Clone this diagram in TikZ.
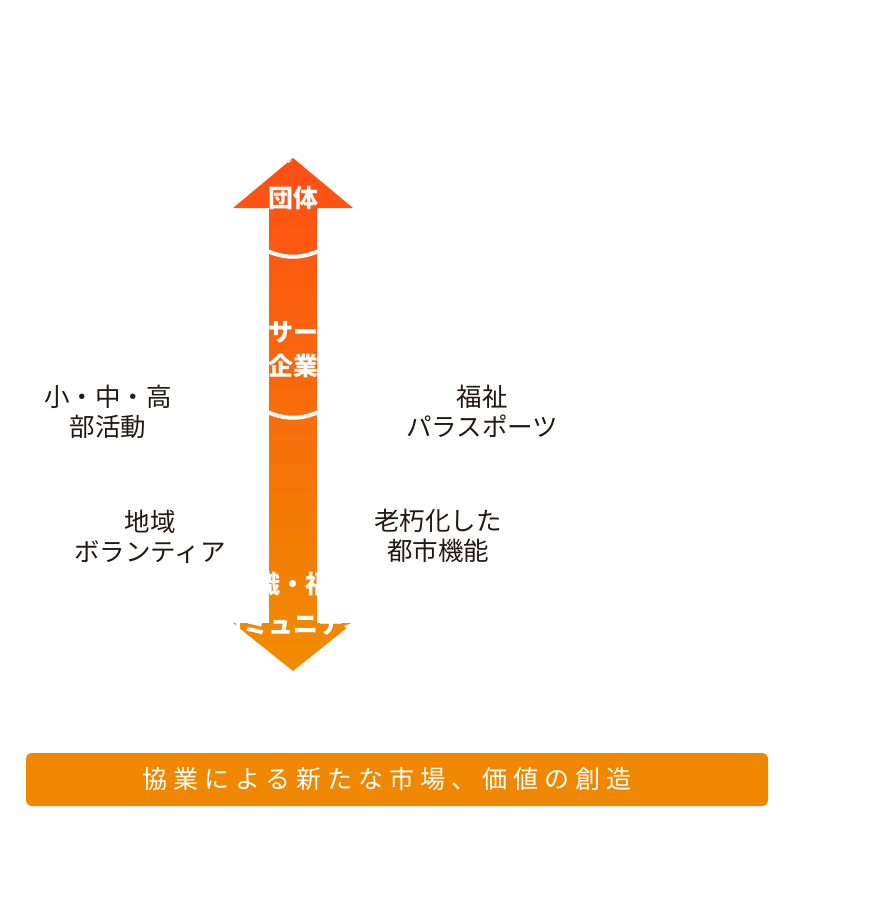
\documentclass[tikz,border=0pt]{standalone}
\usepackage{fontspec}
\setmainfont{Noto Sans CJK JP}
\newfontfamily\jp{Noto Sans CJK JP}
\newfontfamily\jpbar[LetterSpace=24]{Noto Sans CJK JP}
\definecolor{arrtop}{RGB}{255,78,20}
\definecolor{arrbot}{RGB}{240,140,0}
\definecolor{barc}{RGB}{239,136,0}
\definecolor{ink}{RGB}{35,24,21}
\tikzset{
  wt/.style={text=white, inner sep=0pt, font=\jp\bfseries\fontsize{25}{30}\selectfont},
  lbl/.style={text=ink, inner sep=0pt, align=center, font=\jp\fontsize{25.5}{30}\selectfont},
  sep/.style={draw=white, line width=4pt},
  barbox/.style={fill=barc, draw=none, rounded corners=6pt, minimum width=742pt, minimum height=53pt, inner sep=0pt},
  bartxt/.style={text=white, inner sep=0pt, font=\jpbar\fontsize{25}{30}\selectfont}
}
\begin{document}
\begin{tikzpicture}[x=1pt,y=-1pt]
\useasboundingbox (0,0) rectangle (880,918);
\fill[white] (0,0) rectangle (880,918);
% double arrow with gradient, text clipped to it
\begin{scope}
\clip (293,158) -- (353,208) -- (317,208) -- (317,623) -- (353,623) -- (293,671) -- (233,623) -- (269,623) -- (269,208) -- (233,208) -- cycle;
\shade[top color=arrtop, bottom color=arrbot] (233,158) rectangle (353,671);
\draw[sep] (265,250) .. controls (285,259) and (301,259) .. (321,250);
\draw[sep] (265,411) .. controls (285,420) and (301,420) .. (321,411);
\node[wt] (t1) at (293,155) {スポーツ};
\node[wt] (t2) at (293,198) {団体};
\node[wt] (m1) at (293,332) {地域サークル};
\node[wt] (m2) at (293,366) {企業};
\node[wt] (b1) at (293,584) {知識・福祉};
\node[wt] (b2) at (293,625) {コミュニティ};
\end{scope}
% labels
\node[lbl] (l1) at (108,412) {小・中・高\\部活動};
\node[lbl] (l2) at (482,411.5) {福祉\\パラスポーツ};
\node[lbl] (l3) at (150,536.5) {地域\\ボランティア};
\node[lbl] (l4) at (438,536) {老朽化した\\都市機能};
% bottom bar
\node[barbox] (bar) at (397,779.5) {};
\node[bartxt] (bartext) at (387,779) {協業による新たな市場、価値の創造};
\end{tikzpicture}
\end{document}
